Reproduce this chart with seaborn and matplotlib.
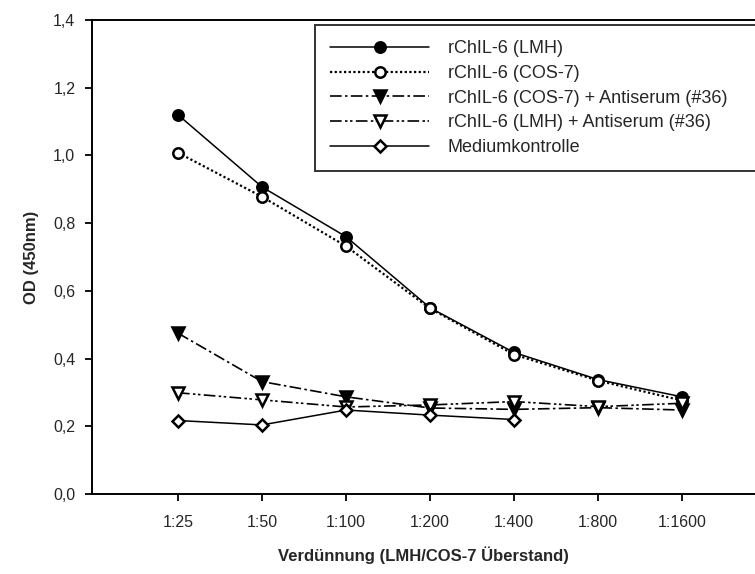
import matplotlib
matplotlib.use("Agg")
import matplotlib.pyplot as plt
import seaborn as sns
import pandas as pd

dilutions = ["1:25", "1:50", "1:100", "1:200", "1:400", "1:800", "1:1600"]
lmh = [1.12, 0.907, 0.760, 0.550, 0.418, 0.338, 0.287]
cos7 = [1.008, 0.878, 0.732, 0.548, 0.412, 0.335, 0.276]
cos7_as = [0.475, 0.332, 0.287, 0.254, 0.250, 0.255, 0.248]
lmh_as = [0.299, 0.278, 0.257, 0.263, 0.273, 0.258, 0.268]
medium = [0.217, 0.204, 0.248, 0.233, 0.220]

labels = ["rChIL-6 (LMH)", "rChIL-6 (COS-7)", "rChIL-6 (COS-7) + Antiserum (#36)",
          "rChIL-6 (LMH) + Antiserum (#36)", "Mediumkontrolle"]
series = [lmh, cos7, cos7_as, lmh_as, medium]
yticks = [0.0, 0.2, 0.4, 0.6, 0.8, 1.0, 1.2, 1.4]

styles = [
    dict(marker="o", mfc="black", ls="-", ms=7.5, lw=1.1),
    dict(marker="o", mfc="white", ls=(0, (1, 1.1)), ms=7.5, lw=1.6),
    dict(marker="v", mfc="black", ls=(0, (7, 2, 1.5, 2)), ms=8.5, lw=1.2),
    dict(marker="v", mfc="white", ls=(0, (7, 2, 1.5, 1.5, 1.5, 2)), ms=8.5, lw=1.2),
    dict(marker="D", mfc="white", ls="-", ms=6, lw=1.1),
]

sns.set_theme(style="ticks")
plt.rcParams["font.family"] = ["Liberation Sans", "DejaVu Sans"]

fig = plt.figure(figsize=(7.55, 5.74), dpi=100)
ax = fig.add_axes([92 / 755, 80 / 574, 663 / 755, 474 / 574])

for lab, vals, st in zip(labels, series, styles):
    df = pd.DataFrame({"x": list(range(len(vals))), "y": vals})
    sns.lineplot(data=df, x="x", y="y", ax=ax, color="black", label=lab,
                 marker=st["marker"], markerfacecolor=st["mfc"],
                 markeredgecolor="black", markeredgewidth=1.8,
                 markersize=st["ms"], linestyle=st["ls"], linewidth=st["lw"])

ax.set_xlim(-86 / 84, -86 / 84 + 663 / 84)
ax.set_ylim(0, 1.4)
ax.set_xticks(range(len(dilutions)))
ax.set_xticklabels(dilutions, fontsize=11.5)
ax.set_yticks(yticks)
ax.set_yticklabels([f"{v:.1f}".replace(".", ",") for v in yticks], fontsize=11.5)
ax.tick_params(axis="y", direction="out", length=5, width=1.3, color="black", pad=7)
ax.tick_params(axis="x", direction="out", length=5, width=1.3, color="black", pad=10)
ax.set_xlabel("Verdünnung (LMH/COS-7 Überstand)", fontsize=12, fontweight="bold", labelpad=12)
ax.set_ylabel("OD (450nm)", fontsize=12, fontweight="bold", labelpad=10)
for s in ["left", "bottom", "top"]:
    ax.spines[s].set_color("black")
    ax.spines[s].set_linewidth(1.4)
ax.spines["right"].set_visible(False)

x0 = (315 - 92) / 663
y1 = (494 - 25) / 474
leg = ax.legend(loc="upper left", bbox_to_anchor=(x0, y1 - 0.5, (790 - 315) / 663, 0.5),
                mode="expand", frameon=True, fancybox=False, fontsize=13,
                handlelength=5.5, handletextpad=1.0, borderpad=0.84, labelspacing=0.43,
                borderaxespad=0)
leg.get_frame().set_edgecolor("black")
leg.get_frame().set_linewidth(1.4)

fig.savefig("out.png", dpi=100)
